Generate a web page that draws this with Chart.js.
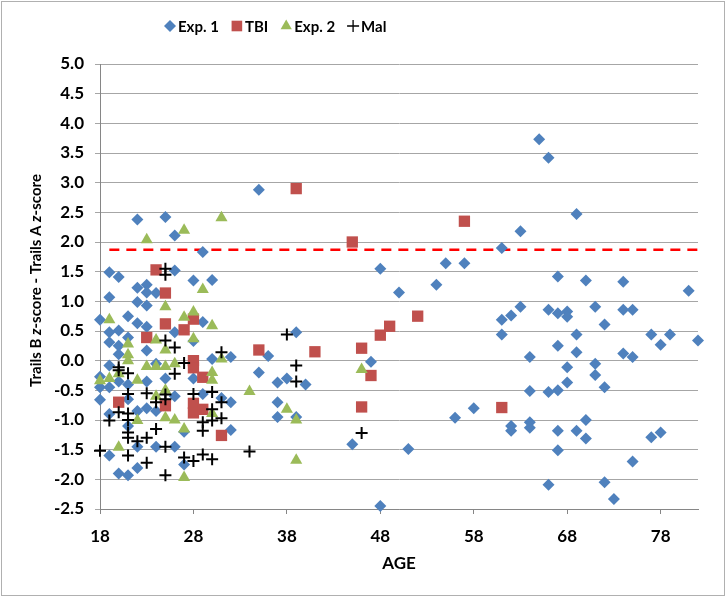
<!DOCTYPE html>
<html><head><meta charset="utf-8">
<script src="https://cdn.jsdelivr.net/npm/chart.js@4/dist/chart.umd.min.js"></script>
<style>html,body{margin:0;padding:0;background:#fff}#wrap{width:727px;height:598px;position:relative}</style>
</head><body><div id="wrap"><canvas id="c" width="727" height="598"></canvas></div>
<script>
const seriesNames = ['Exp. 1', 'TBI', 'Exp. 2', 'Mal'];
const xTicks = [18, 28, 38, 48, 58, 68, 78];
const yTicks = [-2.5, -2.0, -1.5, -1.0, -0.5, 0.0, 0.5, 1.0, 1.5, 2.0, 2.5, 3.0, 3.5, 4.0, 4.5, 5.0];

const exp1Age = [
  18,18,18,18,
  19,19,19,19,19,19,19,19,
  20,20,20,20,20,20,
  21,21,21,21,21,21,
  22,22,22,22,22,22,22,
  23,23,23,23,23,23,23,
  24,24,24,24,
  25,25,
  26,26,26,26,26,
  27,27,
  28,28,28,
  29,29,29,
  30,30,
  31,
  32,32,32,
  35,35,
  36,
  37,37,37,
  38,
  39,39,
  40,
  45,47,48,48,50,51,54,55,56,57,58,
  61,61,61,
  62,62,62,
  63,63,
  64,64,64,64,
  65,
  66,66,66,66,
  67,67,67,67,67,67,
  68,68,68,68,
  69,69,69,69,
  70,70,70,
  71,71,71,
  72,72,72,
  73,
  74,74,74,
  75,75,75,
  77,77,
  78,78,
  79,81,82
];
const exp1Score = [
  0.69,-0.27,-0.45,-0.66,
  1.49,1.07,0.48,0.31,-0.08,-0.45,-0.9,-1.6,
  1.41,0.51,0.25,0.11,-0.35,-1.9,
  0.75,0.39,-0.4,-0.65,-1.1,-1.93,
  2.38,1.23,0.99,0.63,-0.85,-1.45,-1.81,
  1.28,1.15,0.93,0.57,0.17,-0.35,-0.8,
  1.14,-0.05,-0.85,-1.45,
  2.42,-0.3,
  2.11,1.52,0.48,-0.6,-1.45,
  -1.2,-1.75,
  1.35,0.33,-0.3,
  1.83,0.65,-0.56,
  1.36,0.03,
  -0.63,
  0.06,-0.7,-1.17,
  2.88,-0.2,
  0.08,
  -0.37,-0.7,-0.95,
  -0.3,
  0.48,-0.95,
  -0.4,
  -1.41,-0.02,1.55,-2.45,1.15,-1.49,1.28,1.64,-0.96,1.64,-0.8,
  1.9,0.69,0.44,
  0.76,-1.1,-1.18,
  2.18,0.91,
  0.06,-0.51,-1.04,-1.13,
  3.73,
  3.42,0.86,-0.53,-2.09,
  1.42,0.8,0.25,-0.5,-1.18,-1.51,
  0.83,0.74,-0.11,-0.37,
  2.47,0.44,0.14,-1.18,
  1.35,-1.0,-1.31,
  0.91,-0.05,-0.24,
  0.61,-0.45,-2.05,
  -2.33,
  1.33,0.86,0.12,
  0.86,0.06,-1.7,
  0.44,-1.29,
  0.27,-1.21,
  0.44,1.18,0.34
];

const tbiAge   = [20,23,24,25,25,25,27,28,28,28,28,28,29,29,31,35,39,41,45,46,46,47,48,49,52,57,61];
const tbiScore = [-0.7,0.39,1.53,1.14,0.62,-0.76,0.52,0.7,0.0,-0.12,-0.72,-0.88,-0.28,-0.82,-1.26,0.18,2.9,0.15,2.0,0.21,-0.78,-0.25,0.43,0.58,0.75,2.35,-0.79];

const exp2Age   = [18,19,19,20,20,21,21,21,22,22,23,23,24,24,24,25,25,25,25,25,26,26,27,27,27,27,28,28,29,30,30,30,30,31,31,34,38,39,39,46];
const exp2Score = [-0.34,0.69,-0.3,-0.22,-1.46,0.28,0.1,0.0,-0.33,-1.01,2.04,-0.1,0.35,-0.1,-0.6,0.91,0.18,-0.1,-0.5,-0.96,-0.05,-1.0,2.2,0.73,-1.15,-1.97,0.82,0.37,1.2,0.59,-0.2,-0.33,-0.89,2.41,0.03,-0.52,-0.82,-1.0,-1.68,-0.15];

const malAge   = [18,19,20,20,20,21,21,21,21,21,21,21,22,23,23,23,24,24,25,25,25,25,25,25,25,26,26,27,27,28,28,29,29,29,30,30,30,30,31,31,31,34,38,39,39,46];
const malScore = [-1.52,-1.01,-0.11,-0.16,-0.87,-0.21,-0.56,-0.89,-1.0,-1.21,-1.3,-1.6,-1.36,-0.55,-1.3,-1.72,-0.7,-1.15,1.55,1.45,0.34,-0.57,-0.65,-1.45,-1.93,0.22,-0.22,-0.04,-1.63,-0.56,-1.69,-1.04,-1.18,-1.58,-0.53,-0.82,-1.01,-1.66,0.14,-0.7,-0.97,-1.53,0.44,-0.08,-0.35,-1.22];

const cutoffAge = [19, 82];
const cutoffScore = [1.87, 1.87];

function pts(a, b) { return a.map((v, i) => ({ x: v, y: b[i] })); }

const FONT = 'Lato';
const COLORS = { exp1: '#4F81BD', tbi: '#C0504D', exp2: '#9BBB59', mal: '#000000' };

const legendItems = [
  { label: seriesNames[0], style: 'rectRot', r: 6, fill: COLORS.exp1 },
  { label: seriesNames[1], style: 'rect', r: 7.5, fill: COLORS.tbi },
  { label: seriesNames[2], style: 'triangle', r: 6.5, fill: COLORS.exp2 },
  { label: seriesNames[3], style: 'cross', r: 6, fill: COLORS.mal, stroke: true }
];

const decor = {
  id: 'decor',
  beforeDraw(chart) {
    const ctx = chart.ctx;
    ctx.save();
    ctx.fillStyle = '#fff';
    ctx.fillRect(0, 0, chart.width, chart.height);
    ctx.strokeStyle = '#b0b0b0';
    ctx.lineWidth = 1;
    ctx.strokeRect(1.5, 1.5, 723, 594);
    ctx.restore();
  },
  afterDraw(chart) {
    const ctx = chart.ctx;
    const area = chart.chartArea;
    ctx.save();
    // legend
    ctx.textBaseline = 'middle';
    ctx.font = 'bold 15px ' + FONT;
    let lx = 164;
    legendItems.forEach(it => {
      ctx.fillStyle = it.fill;
      ctx.strokeStyle = it.fill;
      ctx.lineWidth = it.stroke ? 1.3 : 0;
      Chart.helpers.drawPoint(ctx, { pointStyle: it.style, radius: it.r, rotation: 0, borderWidth: it.stroke ? 1.3 : 0 }, lx + 6, 26);
      ctx.fillStyle = '#000';
      ctx.textAlign = 'left';
      ctx.fillText(it.label, lx + 14, 27);
      lx += 14 + ctx.measureText(it.label).width + 12;
    });
    // x title
    ctx.fillStyle = '#000';
    ctx.font = 'bold 17px ' + FONT;
    ctx.textAlign = 'center';
    ctx.fillText('AGE', (area.left + area.right) / 2, 564);
    // y title with italic z
    const parts = [
      ['Trails B ', false], ['z', true], ['-score - Trails A ', false], ['z', true], ['-score', false]
    ];
    const fn = it => (it ? 'italic ' : '') + 'bold 15px ' + FONT;
    let total = 0;
    parts.forEach(p => { ctx.font = fn(p[1]); total += ctx.measureText(p[0]).width; });
    ctx.translate(36, (area.top + area.bottom) / 2 - 6);
    ctx.rotate(-Math.PI / 2);
    ctx.textAlign = 'left';
    let x = -total / 2;
    parts.forEach(p => { ctx.font = fn(p[1]); ctx.fillText(p[0], x, 0); x += ctx.measureText(p[0]).width; });
    ctx.restore();
  }
};

new Chart(document.getElementById('c'), {
  type: 'scatter',
  data: {
    datasets: [
      { label: 'cutoff', data: pts(cutoffAge, cutoffScore), showLine: true, borderColor: '#FF0000', borderWidth: 2.5, borderDash: [10, 7], pointRadius: 0, order: 5, clip: false },
      { label: seriesNames[0], data: pts(exp1Age, exp1Score), pointStyle: 'rectRot', pointRadius: 6, backgroundColor: COLORS.exp1, borderColor: COLORS.exp1, borderWidth: 0, order: 4, clip: false },
      { label: seriesNames[1], data: pts(tbiAge, tbiScore), pointStyle: 'rect', pointRadius: 8, backgroundColor: COLORS.tbi, borderColor: COLORS.tbi, borderWidth: 0, order: 3, clip: false },
      { label: seriesNames[2], data: pts(exp2Age, exp2Score), pointStyle: 'triangle', pointRadius: 7, backgroundColor: COLORS.exp2, borderColor: COLORS.exp2, borderWidth: 0, order: 2, clip: false },
      { label: seriesNames[3], data: pts(malAge, malScore), pointStyle: 'cross', pointRadius: 6, backgroundColor: COLORS.mal, borderColor: COLORS.mal, borderWidth: 2, order: 1, clip: false }
    ]
  },
  options: {
    responsive: false,
    animation: false,
    layout: { padding: { top: 64, right: 29, left: 0, bottom: 0 } },
    plugins: { legend: { display: false }, tooltip: { enabled: false }, title: { display: false } },
    elements: { point: { hoverRadius: 6 } },
    scales: {
      x: {
        type: 'linear', min: 18, max: 82,
        afterBuildTicks: s => { s.ticks = xTicks.map(v => ({ value: v })); },
        afterFit: s => { s.height = 89; },
        grid: { drawOnChartArea: false, drawTicks: true, tickLength: 5, color: '#868686' },
        border: { color: '#868686', width: 1 },
        ticks: { color: '#000', padding: 12, font: { family: FONT, size: 17, weight: 'bold' }, maxRotation: 0, callback: v => String(v) }
      },
      y: {
        type: 'linear', min: -2.5, max: 5,
        afterBuildTicks: s => { s.ticks = yTicks.map(v => ({ value: v })); },
        afterFit: s => { s.width = 100; },
        grid: { color: '#a6a6a6', lineWidth: 1, drawTicks: true, tickLength: 5 },
        border: { color: '#868686', width: 1 },
        ticks: { color: '#000', padding: 11, font: { family: FONT, size: 17, weight: 'bold' }, callback: v => Number(v).toFixed(1) }
      }
    }
  },
  plugins: [decor]
});
</script>
</body></html>
